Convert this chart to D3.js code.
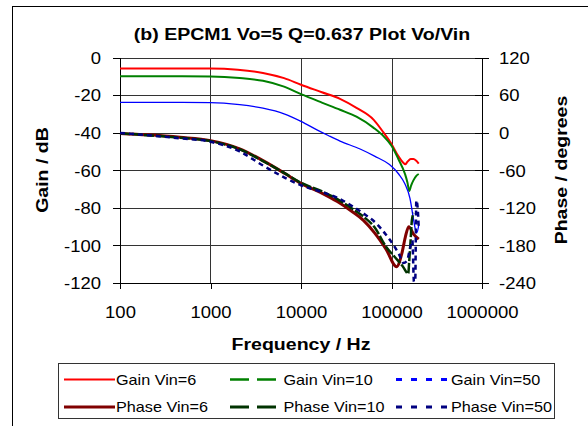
<!DOCTYPE html>
<html>
<head>
<meta charset="utf-8">
<script src="https://cdn.jsdelivr.net/npm/d3@7"></script>
<style>
  body { margin: 0; background: #fff; }
  svg { display: block; }
  text { font-family: "Liberation Sans", Arial, sans-serif; fill: #000; }
</style>
</head>
<body>
<svg id="chart" width="588" height="426"></svg>
<script>
// values (Hz, dB, degrees)
const freqTicks = [100, 1000, 10000, 100000, 1000000];
const gainTicks = [0, -20, -40, -60, -80, -100, -120];
const phaseTicks = [120, 60, 0, -60, -120, -180, -240];

const gain6Freq = [100, 300, 1000, 2000, 3800, 6500, 10000, 17000, 27000, 41000, 64000, 81000, 100000, 119000, 135000, 142000, 150000, 163000, 175000, 188000, 200000];
const gain6 = [-5.9, -5.9, -5.9, -6.5, -8.2, -11, -14.5, -18.5, -22, -26.8, -33.3, -39.7, -46, -52.5, -56, -56.8, -55.5, -54, -54, -55, -56.5];

const gain10Freq = [100, 300, 1000, 2100, 3800, 6500, 10000, 17000, 27000, 41000, 63000, 82000, 100000, 119000, 141000, 150000, 157000, 165000, 174000, 188000, 200000];
const gain10 = [-10, -10, -10.1, -10.9, -12.4, -15.5, -19.5, -24, -27.8, -31.5, -37.3, -42, -47, -54, -62, -66.5, -71, -68, -65.5, -63, -62];

const gain50Freq = [100, 300, 1000, 2100, 3800, 6500, 10000, 15000, 20000, 27000, 45000, 65000, 95000, 120000, 140000, 160000, 175000, 185000, 192000, 200000];
const gain50 = [-23.9, -23.9, -24, -25.1, -27, -30, -34, -38.5, -41.5, -44.5, -48.7, -52.5, -57, -62, -67, -75, -86, -92, -93, -89];

const phase6Freq = [100, 200, 460, 1000, 2100, 3760, 6650, 10000, 17200, 25200, 36600, 49000, 65000, 87000, 114000, 130000, 142000, 155000, 175000, 200000];
const phase6 = [-1.2, -3.5, -7.4, -12.7, -25.8, -44.3, -65.3, -81, -96.8, -110, -125.8, -140, -160, -186, -214, -193, -167, -150, -162, -170];

const phase10Freq = [100, 200, 460, 1000, 2100, 3760, 6650, 10000, 17200, 25200, 36600, 49000, 65000, 87000, 108000, 134000, 153000, 157000, 162000, 168000, 176000];
const phase10 = [-1, -4, -8, -13.5, -26.5, -45, -65, -80, -94, -106, -121, -134, -151, -182, -198, -214, -225, -205, -176, -140, -128];

const phase50Freq = [100, 200, 460, 1000, 2100, 3760, 6650, 10000, 17200, 25200, 36600, 49000, 68000, 87000, 108000, 122000, 135000, 148000, 160000, 170000, 177000, 183000, 188000, 194000, 200000];
const phase50 = [-0.5, -4, -9, -14.5, -30, -52, -72, -84, -95, -104, -117, -129, -145, -163, -182, -195, -208, -205, -185, -172, -238, -236, -108, -118, -152];

const seriesNames = ["Gain Vin=6", "Gain Vin=10", "Gain Vin=50", "Phase Vin=6", "Phase Vin=10", "Phase Vin=50"];

(function() {
  const svg = d3.select("#chart");
  const W = 588, H = 426;
  const plot = { left: 120, right: 482, top: 57.5, bottom: 283 };
  const sx = 1.12; // the original font runs a bit wider than Arial

  const x = d3.scaleLog().domain([100, 1000000]).range([plot.left, plot.right]);
  const yGain = d3.scaleLinear().domain([-120, 0]).range([plot.bottom, plot.top]);
  const yPhase = d3.scaleLinear().domain([-240, 120]).range([plot.bottom, plot.top]);

  const series = [
    { f: gain6Freq, v: gain6, y: yGain, color: "#ff0000", width: 2, dash: null, legW: 2, legDash: null },
    { f: gain10Freq, v: gain10, y: yGain, color: "#008000", width: 2, dash: null, legW: 2.5, legDash: "19,8" },
    { f: gain50Freq, v: gain50, y: yGain, color: "#0000ff", width: 1.3, dash: null, legW: 3, legDash: "6,9" },
    { f: phase6Freq, v: phase6, y: yPhase, color: "#800000", width: 3, dash: null, legW: 3, legDash: null },
    { f: phase10Freq, v: phase10, y: yPhase, color: "#003300", width: 2.5, dash: "10,2", legW: 3, legDash: "19,8" },
    { f: phase50Freq, v: phase50, y: yPhase, color: "#000080", width: 2.5, dash: "5,4", legW: 3, legDash: "6,9" }
  ];

  // chart frame (runs off the right and bottom of the picture)
  svg.append("rect")
    .attr("x", 12.5).attr("y", 6.5)
    .attr("width", W).attr("height", H)
    .attr("fill", "#fff").attr("stroke", "#000");

  // title
  svg.append("text")
    .attr("transform", `translate(302,40) scale(1.15,1)`)
    .attr("text-anchor", "middle")
    .style("font-size", "17px").style("font-weight", "bold")
    .text("(b) EPCM1 Vo=5 Q=0.637 Plot Vo/Vin");

  // grid
  const grid = svg.append("g").attr("stroke", "#333").attr("shape-rendering", "crispEdges");
  grid.selectAll(".h").data(gainTicks.filter(d => d > -120)).join("line")
    .attr("x1", plot.left).attr("x2", plot.right)
    .attr("y1", d => Math.round(yGain(d)) + 0.5).attr("y2", d => Math.round(yGain(d)) + 0.5);
  grid.selectAll(".v").data(freqTicks.slice(1, -1)).join("line")
    .attr("y1", plot.top).attr("y2", plot.bottom)
    .attr("x1", d => Math.round(x(d)) + 0.5).attr("x2", d => Math.round(x(d)) + 0.5);

  // axes
  const leftAxis = svg.append("g").attr("transform", `translate(${plot.left},0)`)
    .call(d3.axisLeft(yGain).tickValues(gainTicks).tickSize(7).tickSizeOuter(0).tickFormat(d => String(d)));
  leftAxis.selectAll(".tick text")
    .attr("x", null).attr("dy", "0.35em")
    .attr("transform", `translate(-19,0) scale(${sx},1)`)
    .style("font-size", "16.5px");

  const rightAxis = svg.append("g").attr("transform", `translate(${plot.right},0)`)
    .call(d3.axisRight(yPhase).tickValues(phaseTicks).tickSize(7).tickSizeOuter(0).tickFormat(d => String(d)));
  rightAxis.selectAll(".tick line").attr("x1", -7);
  rightAxis.selectAll(".tick text")
    .attr("x", null).attr("dy", "0.35em")
    .attr("transform", `translate(17,0) scale(${sx},1)`)
    .style("font-size", "16.5px");

  const bottomAxis = svg.append("g").attr("transform", `translate(0,${plot.bottom})`)
    .call(d3.axisBottom(x).tickValues(freqTicks).tickSize(6).tickSizeOuter(0).tickFormat(d => String(d)));
  bottomAxis.selectAll(".tick text")
    .attr("y", null).attr("dy", null)
    .attr("transform", `translate(0,35) scale(${sx},1)`)
    .style("font-size", "16.5px");

  svg.selectAll(".domain, .tick line").attr("stroke", "#000").attr("shape-rendering", "crispEdges");

  // axis titles
  svg.append("text")
    .attr("transform", `translate(47.5,170) rotate(-90) scale(1.15,1)`)
    .attr("text-anchor", "middle")
    .style("font-size", "17px").style("font-weight", "bold")
    .text("Gain / dB");
  svg.append("text")
    .attr("transform", `translate(567,170) rotate(-90) scale(1.15,1)`)
    .attr("text-anchor", "middle")
    .style("font-size", "17px").style("font-weight", "bold")
    .text("Phase / degrees");
  svg.append("text")
    .attr("transform", `translate(301,350) scale(1.15,1)`)
    .attr("text-anchor", "middle")
    .style("font-size", "17px").style("font-weight", "bold")
    .text("Frequency / Hz");

  // curves
  const lines = svg.append("g").attr("fill", "none").attr("stroke-linejoin", "round");
  series.forEach(s => {
    const pts = s.f.map((f, i) => [f, s.v[i]]);
    const line = d3.line().x(d => x(d[0])).y(d => s.y(d[1])).curve(d3.curveMonotoneX);
    lines.append("path")
      .attr("d", line(pts))
      .attr("stroke", s.color)
      .attr("stroke-width", s.width)
      .attr("stroke-dasharray", s.dash);
  });

  // legend
  const legend = svg.append("g");
  legend.append("rect")
    .attr("x", 58.5).attr("y", 363.5).attr("width", 496).attr("height", 55)
    .attr("fill", "#fff").attr("stroke", "#333");
  seriesNames.forEach((name, i) => {
    const col = i % 3, row = Math.floor(i / 3);
    const lx = 64 + col * 166;
    const ly = 379.5 + row * 27.5;
    const s = series[i];
    legend.append("line")
      .attr("x1", lx).attr("x2", lx + 51)
      .attr("y1", ly).attr("y2", ly)
      .attr("stroke", s.color).attr("stroke-width", s.legW)
      .attr("stroke-dasharray", s.legDash);
    legend.append("text")
      .attr("transform", `translate(${lx + 52 + col * 1.5},${ly}) scale(1.08,1)`)
      .attr("dy", "0.35em")
      .style("font-size", "15px")
      .text(name);
  });
})();
</script>
</body>
</html>
